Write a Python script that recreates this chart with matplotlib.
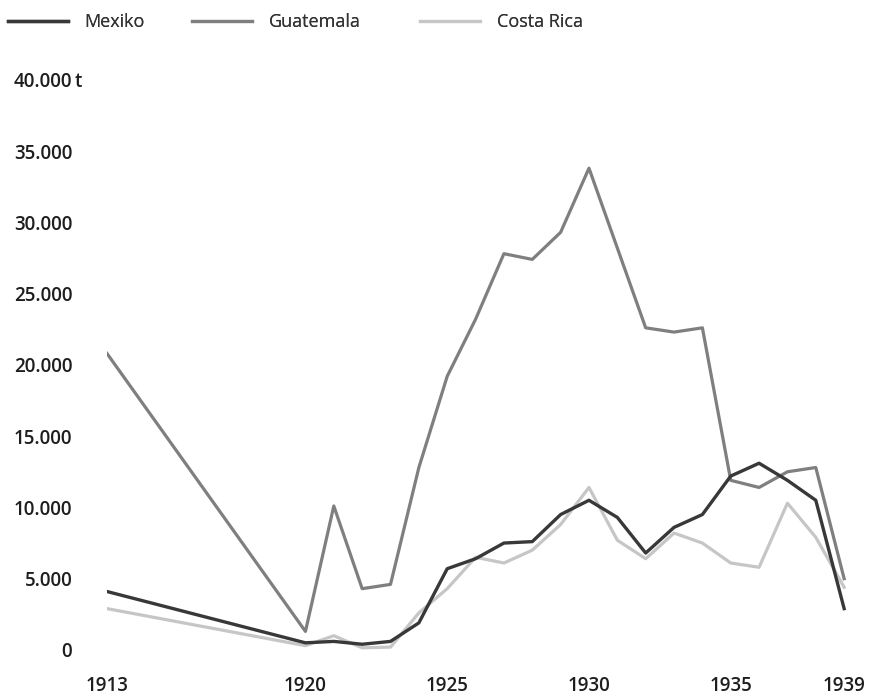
import matplotlib
matplotlib.use("Agg")
import matplotlib.pyplot as plt
import matplotlib.transforms as mtransforms

years = [1913, 1920, 1921, 1922, 1923, 1924, 1925, 1926, 1927, 1928, 1929,
         1930, 1931, 1932, 1933, 1934, 1935, 1936, 1937, 1938, 1939]

mexiko = [4100, 500, 600, 400, 600, 1900, 5700, 6400, 7500, 7600, 9500,
          10500, 9300, 6800, 8600, 9500, 12200, 13100, 11900, 10500, 2900]
guatemala = [20800, 1300, 10100, 4300, 4600, 12800, 19200, 23200, 27800, 27400, 29300,
             33800, 28200, 22600, 22300, 22600, 11900, 11400, 12500, 12800, 5000]
costa_rica = [2900, 300, 1000, 150, 200, 2600, 4300, 6500, 6100, 7000, 8800,
              11400, 7700, 6400, 8200, 7500, 6100, 5800, 10300, 7900, 4400]

x_ticks = [1913, 1920, 1925, 1930, 1935, 1939]
y_ticks = [0, 5000, 10000, 15000, 20000, 25000, 30000, 35000, 40000]
y_labels = ["0", "5.000", "10.000", "15.000", "20.000", "25.000", "30.000", "35.000", "40.000"]
unit = "t"

plt.rcParams["font.family"] = ["Open Sans", "DejaVu Sans"]

fig = plt.figure(figsize=(8.77, 6.97), dpi=100)
ax = fig.add_axes([0.122, 0.0675, 0.847, 0.818])

l_gua, = ax.plot(years, guatemala, color="#7f7f7f", lw=2.3, label="Guatemala", zorder=2)
l_cr, = ax.plot(years, costa_rica, color="#c6c6c6", lw=2.3, label="Costa Rica", zorder=1)
l_mex, = ax.plot(years, mexiko, color="#383838", lw=2.4, label="Mexiko", zorder=3)

ax.set_xlim(1913, 1939.2)
ax.set_ylim(0, 40000)
for s in ax.spines.values():
    s.set_visible(False)

tick_font = dict(fontsize=13.5, fontweight="semibold", color="#1e1e1e")
ax.set_xticks(x_ticks)
ax.set_xticklabels([str(t) for t in x_ticks], **tick_font)
ax.set_yticks(y_ticks)
ax.set_yticklabels(y_labels, **tick_font)
ax.tick_params(axis="both", length=0)
ax.tick_params(axis="x", pad=19)
ax.tick_params(axis="y", pad=25)

# unit after the top label
trans = mtransforms.offset_copy(ax.get_yaxis_transform(), fig=fig, x=-32, y=0, units="dots")
ax.text(0, 40000, unit, transform=trans, ha="left", va="center_baseline", **tick_font)

# legend, one entry each so the gaps follow the reference
for line, x0 in [(l_mex, 8), (l_gua, 192), (l_cr, 420)]:
    leg = fig.legend([line], [line.get_label()], loc="upper left",
                     bbox_to_anchor=(x0 / 877, 1 - 13 / 697), frameon=False,
                     fontsize=13, handlelength=3.3, handletextpad=0.95,
                     borderpad=0, borderaxespad=0, labelcolor="#333333")
    fig.add_artist(leg)

fig.savefig("out.png", dpi=100)
